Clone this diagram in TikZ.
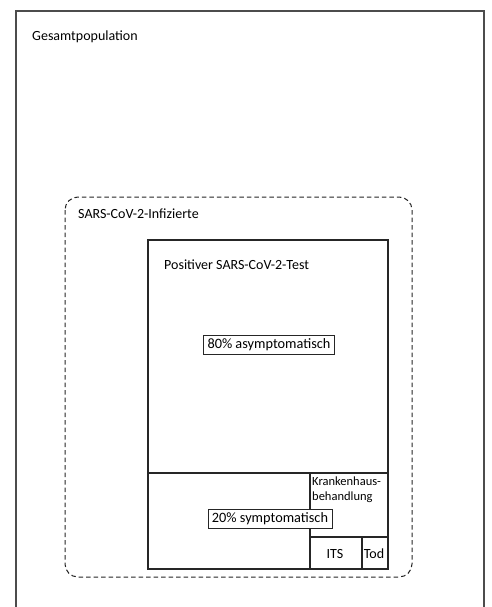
\documentclass[tikz,border=0pt]{standalone}
\usepackage{fontspec}
\setmainfont{Carlito}
\begin{document}
\begin{tikzpicture}[x=1pt,y=-1pt,
  label/.style={inner sep=0pt,anchor=west,font=\fontsize{14}{16}\selectfont},
  smalllabel/.style={inner sep=0pt,anchor=north west,align=left,font=\fontsize{12.5}{15}\selectfont},
  tagbox/.style={draw=black!85,line width=0.9pt,inner xsep=4pt,inner ysep=3pt,fill=white,font=\fontsize{14.3}{16}\selectfont},
  cell/.style={font=\fontsize{14}{16}\selectfont,inner sep=0pt},
  outerline/.style={draw=black!70,line width=1.3pt},
  infline/.style={draw=black!85,line width=1pt,dash pattern=on 4.5pt off 3pt,rounded corners=13pt},
  testline/.style={draw=black!85,line width=1.8pt},
  divline/.style={draw=black!85,line width=1.3pt}]
\useasboundingbox (0,0) rectangle (492,607);
\fill[white] (0,0) rectangle (492,607);

% whole population
\draw[outerline] (16,620) -- (16,11) -- (484,11) -- (484,620);
\node[label] (pop) at (32,37) {Gesamtpopulation};

% infected (dashed)
\draw[infline] (65,197) rectangle (412,577);
\node[label] (inf) at (78,214) {SARS-CoV-2-Infizierte};

% positive test
\draw[testline] (148,240) rectangle (388,569);
\node[label] (pos) at (164,265) {Positiver SARS-CoV-2-Test};

% subdivisions
\coordinate (hl) at (148,473);
\coordinate (hr) at (388,473);
\draw[divline] (hl) -- (hr);
\draw[divline] (310,473) -- (310,569);
\draw[divline] (310,537) -- (388,537);
\draw[divline] (362,537) -- (362,569);

\node[smalllabel] (kh) at (312,477) {Krankenhaus-\\behandlung};
\node[cell] (its) at (335,554) {ITS};
\node[cell] (tod) at (374,554) {Tod};

\node[tagbox] (asym) at (269,345) {80\% asymptomatisch};
\node[tagbox] (sym) at (270,519) {20\% symptomatisch};
\end{tikzpicture}
\end{document}
